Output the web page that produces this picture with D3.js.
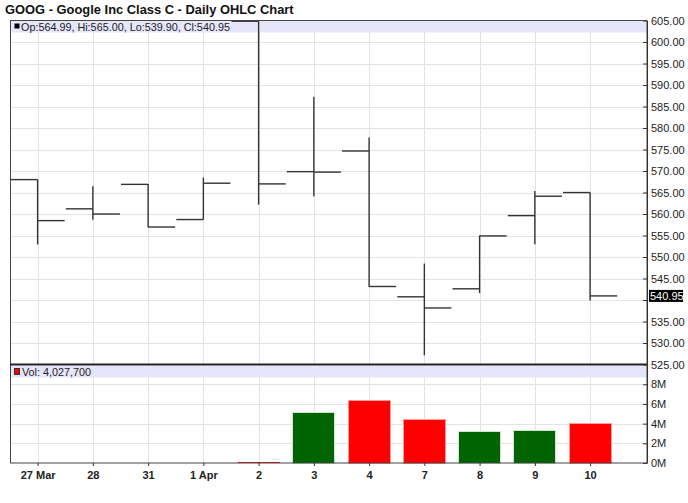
<!DOCTYPE html>
<html>
<head>
<meta charset="utf-8">
<script src="https://cdn.jsdelivr.net/npm/d3@7"></script>
<style>
  html, body { margin: 0; padding: 0; background: #fff; }
  svg { display: block; font-family: "Liberation Sans", Arial, sans-serif; }
</style>
</head>
<body>
<svg id="chart" width="688" height="503"></svg>
<script>
// ---- data ----
const dates   = ["27 Mar", "28", "31", "1 Apr", "2", "3", "4", "7", "8", "9", "10"];
const opens   = [568.00, 561.20, 566.89, 558.71, 604.83, 569.85, 574.65, 540.74, 542.60, 559.62, 564.99];
const highs   = [568.00, 566.43, 567.00, 568.45, 604.83, 587.28, 577.77, 548.48, 555.00, 565.37, 565.00];
const lows    = [552.92, 558.67, 556.93, 558.71, 562.19, 564.13, 543.00, 527.15, 541.61, 552.95, 539.90];
const closes  = [558.46, 559.99, 556.97, 567.16, 567.00, 569.74, 543.14, 538.15, 554.90, 564.14, 540.95];
const volumes = [13100, 41100, 10800, 7900, 146700, 5087500, 6377700, 4389600, 3152400, 3324700, 4027700];
const priceTicks = [525, 530, 535, 540, 545, 550, 555, 560, 565, 570, 575, 580, 585, 590, 595, 600, 605];
const volTicks = [0, 2e6, 4e6, 6e6, 8e6];
const title = "GOOG - Google Inc Class C - Daily OHLC Chart";

// ---- layout ----
const L = 10, R = 647, PT = 20.5, PB = 364.5, VT = 365.5, VB = 463;
const svg = d3.select("#chart");
const idx = d3.range(dates.length);
const x = d3.scaleLinear().domain([-0.5, 11.03]).range([L, R]);
const step = x(1) - x(0);
const y = d3.scaleLinear().domain([525, 605]).range([PB, PT]);
const yv = d3.scaleLinear().domain([0, 10e6]).range([VB, VB - 98.4]);
const crisp = v => Math.round(v) + 0.5;

svg.append("rect").attr("width", 688).attr("height", 503).attr("fill", "#fff");

// title
svg.append("text").attr("x", 5).attr("y", 13.5)
  .attr("font-size", 12.9).attr("font-weight", "bold").attr("fill", "#111")
  .text(title);

// gridlines
const grid = svg.append("g").attr("stroke", "#e3e3e3").attr("stroke-width", 1);
grid.selectAll("line.hp").data(priceTicks.filter(t => t > 525 && t < 605)).join("line")
  .attr("x1", L).attr("x2", R).attr("y1", d => crisp(y(d))).attr("y2", d => crisp(y(d)));
grid.selectAll("line.hv").data(volTicks.filter(t => t > 0)).join("line")
  .attr("class", "hv")
  .attr("x1", L).attr("x2", R).attr("y1", d => crisp(yv(d))).attr("y2", d => crisp(yv(d)));
grid.selectAll("line.vp").data(idx).join("line")
  .attr("class", "vp")
  .attr("x1", d => crisp(x(d))).attr("x2", d => crisp(x(d))).attr("y1", PT).attr("y2", VB);

// legend bands
svg.append("rect").attr("x", L).attr("y", PT + 0.5).attr("width", R - L).attr("height", 11.5).attr("fill", "#e6e6fa");
svg.append("rect").attr("x", L).attr("y", VT + 0.5).attr("width", R - L).attr("height", 11.5).attr("fill", "#e6e6fa");

// volume bars
const bw = 42;
const upColor = "#006400", downColor = "#ff0000";
const colorOf = i => (i > 0 && closes[i] < closes[i - 1]) ? downColor : upColor;
svg.append("g").attr("shape-rendering", "crispEdges").selectAll("rect").data(idx).join("rect")
  .attr("x", i => x(i) - bw / 2)
  .attr("width", bw)
  .attr("y", i => yv(volumes[i]))
  .attr("height", i => VB - yv(volumes[i]))
  .attr("fill", i => colorOf(i))
  .attr("stroke", i => (VB - yv(volumes[i])) >= 2 ? (colorOf(i) === downColor ? "#ff9a9a" : "#cfe6cf") : "none")
  .attr("stroke-width", 1);

// OHLC marks
const tick = step * 0.49;
const ohlc = svg.append("g").attr("stroke", "#333").attr("stroke-width", 1.4).attr("fill", "none");
ohlc.selectAll("line.hl").data(idx).join("line").attr("class", "hl")
  .attr("x1", i => x(i)).attr("x2", i => x(i))
  .attr("y1", i => y(highs[i])).attr("y2", i => y(lows[i]));
ohlc.selectAll("line.op").data(idx).join("line").attr("class", "op")
  .attr("x1", i => Math.max(L, x(i) - tick)).attr("x2", i => x(i))
  .attr("y1", i => y(opens[i])).attr("y2", i => y(opens[i]));
ohlc.selectAll("line.cl").data(idx).join("line").attr("class", "cl")
  .attr("x1", i => x(i)).attr("x2", i => x(i) + tick)
  .attr("y1", i => y(closes[i])).attr("y2", i => y(closes[i]));

// frame
svg.append("rect").attr("x", L + 0.5).attr("y", PT).attr("width", R - L - 0.5).attr("height", VB - PT)
  .attr("fill", "none").attr("stroke", "#444").attr("stroke-width", 1);
svg.append("line").attr("x1", L).attr("x2", R).attr("y1", PB).attr("y2", PB)
  .attr("stroke", "#222").attr("stroke-width", 2);

// legends
const last = dates.length - 1;
svg.append("rect").attr("x", 14.5).attr("y", 23.5).attr("width", 5).attr("height", 5).attr("fill", "#000");
svg.append("text").attr("x", 21).attr("y", 30.5).attr("font-size", 10.8).attr("fill", "#222")
  .text(`Op:${opens[last].toFixed(2)}, Hi:${highs[last].toFixed(2)}, Lo:${lows[last].toFixed(2)}, Cl:${closes[last].toFixed(2)}`);
svg.append("rect").attr("x", 14.5).attr("y", 368.5).attr("width", 5).attr("height", 6)
  .attr("fill", colorOf(last)).attr("stroke", "#333").attr("stroke-width", 1);
svg.append("text").attr("x", 22).attr("y", 375.5).attr("font-size", 10.8).attr("fill", "#222")
  .text(`Vol: ${d3.format(",")(volumes[last])}`);

// right price axis
const lastY = y(closes[last]);
const pAxis = d3.axisRight(y).tickValues(priceTicks).tickSizeInner(-4).tickSizeOuter(0).tickPadding(4)
  .tickFormat(d => Math.abs(y(d) - lastY) < 9 ? "" : d.toFixed(2));
const pg = svg.append("g").attr("transform", `translate(${R},0)`).call(pAxis);
pg.select(".domain").attr("stroke", "#333");
pg.selectAll(".tick line").attr("stroke", "#333");
pg.selectAll(".tick text").attr("font-size", 11).attr("fill", "#222").attr("font-family", "Liberation Sans, Arial, sans-serif");

// volume axis
const vAxis = d3.axisRight(yv).tickValues(volTicks).tickSizeInner(-4).tickSizeOuter(0).tickPadding(4)
  .tickFormat(d => (d / 1e6) + "M");
const vg = svg.append("g").attr("transform", `translate(${R},0)`).call(vAxis);
vg.select(".domain").attr("stroke", "#333");
vg.selectAll(".tick line").attr("stroke", "#333");
vg.selectAll(".tick text").attr("font-size", 11).attr("fill", "#222").attr("font-family", "Liberation Sans, Arial, sans-serif");

// last-price marker
svg.append("rect").attr("x", R + 2).attr("y", lastY - 6).attr("width", 34).attr("height", 12).attr("fill", "#000");
svg.append("text").attr("x", R + 3).attr("y", lastY + 4).attr("font-size", 11).attr("fill", "#fff")
  .text(closes[last].toFixed(2));

// bottom axis
const xAxis = d3.axisBottom(x).tickValues(idx).tickFormat(i => dates[i]).tickSize(3).tickPadding(5);
const xg = svg.append("g").attr("transform", `translate(0,${VB})`).call(xAxis);
xg.select(".domain").remove();
xg.selectAll(".tick line").attr("stroke", "#333");
xg.selectAll(".tick text").attr("font-size", 11).attr("font-weight", "bold").attr("fill", "#222")
  .attr("font-family", "Liberation Sans, Arial, sans-serif");
</script>
</body>
</html>
